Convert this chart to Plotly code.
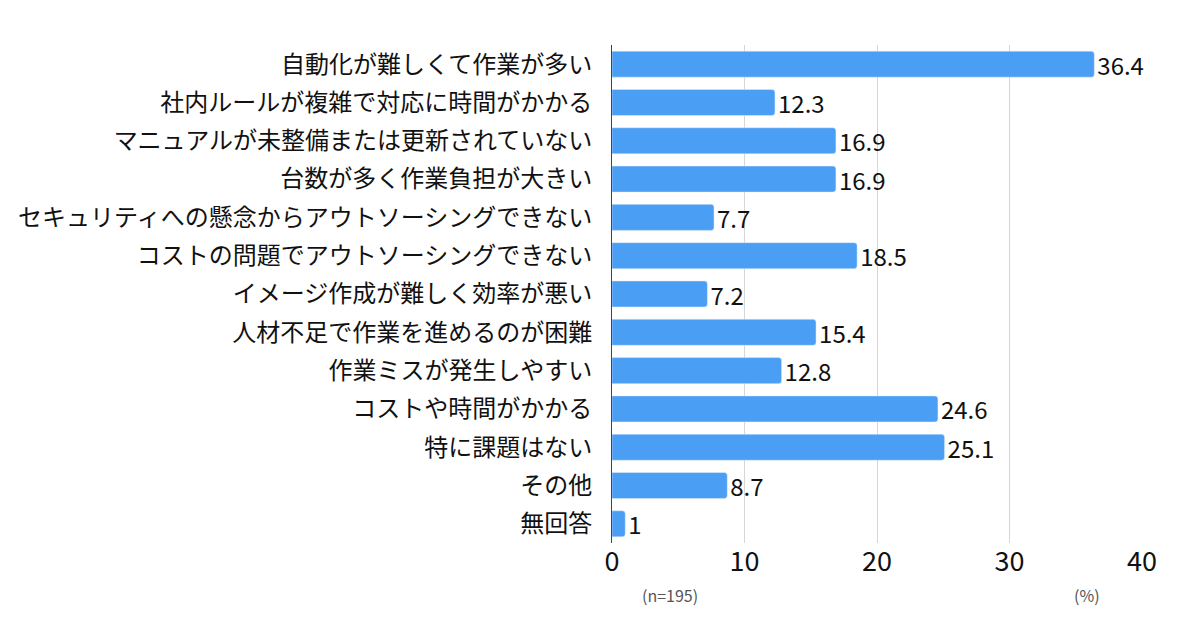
import plotly.graph_objects as go

categories = [
    "自動化が難しくて作業が多い",
    "社内ルールが複雑で対応に時間がかかる",
    "マニュアルが未整備または更新されていない",
    "台数が多く作業負担が大きい",
    "セキュリティへの懸念からアウトソーシングできない",
    "コストの問題でアウトソーシングできない",
    "イメージ作成が難しく効率が悪い",
    "人材不足で作業を進めるのが困難",
    "作業ミスが発生しやすい",
    "コストや時間がかかる",
    "特に課題はない",
    "その他",
    "無回答",
]
values = [36.4, 12.3, 16.9, 16.9, 7.7, 18.5, 7.2, 15.4, 12.8, 24.6, 25.1, 8.7, 1]
labels = ["36.4", "12.3", "16.9", "16.9", "7.7", "18.5", "7.2", "15.4", "12.8", "24.6", "25.1", "8.7", "1"]

FONT = "Noto Sans CJK JP"

fig = go.Figure()
fig.add_trace(go.Bar(
    x=values, y=categories, orientation="h",
    marker=dict(color="#4A9FF5"),
    text=labels, textposition="outside", constraintext="none",
    textfont=dict(size=24, color="#111111", family=FONT),
    cliponaxis=False,
))

# page body has an 8px margin, so margins are shifted to compensate
fig.update_layout(
    width=1200, height=623,
    margin=dict(l=604, r=66, t=37, b=88),
    plot_bgcolor="white", paper_bgcolor="white",
    bargap=0.32, barcornerradius=3,
    showlegend=False,
    font=dict(family=FONT, color="#111111"),
)
fig.update_xaxes(
    range=[0, 40], tickvals=[0, 10, 20, 30, 40],
    showgrid=True, gridcolor="#D6D6D6", gridwidth=1,
    zeroline=False, showline=False, automargin=False,
    tickfont=dict(size=27, family=FONT), ticks="",
)
fig.update_yaxes(
    autorange="reversed", showgrid=False, zeroline=False,
    showline=True, linecolor="#444444", linewidth=1, automargin=False,
    tickfont=dict(size=24, family=FONT), ticks="",
    ticklabelstandoff=14,
)

fig.add_annotation(text="(n=195)", x=0, y=0, xref="paper", yref="paper",
                   xanchor="center", yanchor="middle", xshift=58, yshift=-52,
                   showarrow=False, font=dict(size=16, color="#555555"))
fig.add_annotation(text="(%)", x=0, y=0, xref="paper", yref="paper",
                   xanchor="center", yanchor="middle", xshift=475, yshift=-52,
                   showarrow=False, font=dict(size=16, color="#555555"))

fig.write_html("out.html")
